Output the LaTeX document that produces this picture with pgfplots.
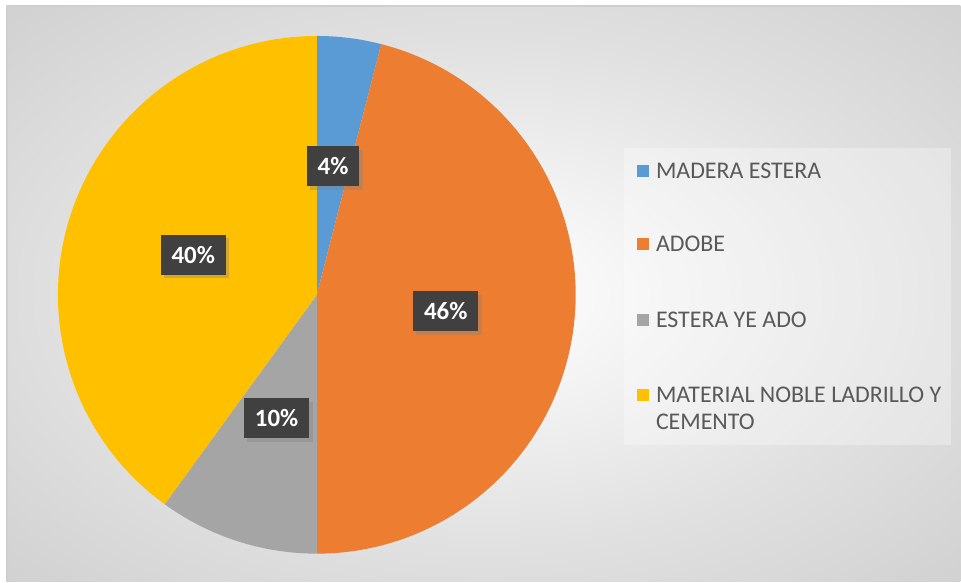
\documentclass[border=0pt]{standalone}
\usepackage{fontspec}
\setmainfont{Carlito}
\usepackage{pgfplots}
\usepackage{pgfplotstable}
\pgfplotsset{compat=1.18}
\usetikzlibrary{shadows}

\definecolor{cMadera}{HTML}{5B9BD5}
\definecolor{cAdobe}{HTML}{ED7D31}
\definecolor{cEstera}{HTML}{A5A5A5}
\definecolor{cNoble}{HTML}{FFC000}
\definecolor{lbldark}{HTML}{404040}
\definecolor{legtext}{HTML}{595959}
\definecolor{framegray}{HTML}{CFCFCF}

\pgfdeclareradialshading{chartbg}{\pgfpoint{0bp}{0bp}}{%
  color(0bp)=(white); color(6bp)=(white!97!black); color(22bp)=(white!88!black);
  color(42bp)=(white!79!black); color(71bp)=(white!73!black)}

% shares in percent, clockwise from 12 o'clock
\pgfplotstableread[col sep=comma]{
label,share,colour
MADERA ESTERA,4,cMadera
ADOBE,46,cAdobe
ESTERA YE ADO,10,cEstera
MATERIAL NOBLE LADRILLO Y CEMENTO,40,cNoble
}\piedata

% pie geometry in pixel units of the axis
\def\cx{317}
\def\cy{287}
\def\rad{129.5bp}   % 259 axis units
\def\lblr{130}

\pgfplotstablegetrowsof{\piedata}
\pgfmathtruncatemacro\lastrow{\pgfplotsretval-1}
\gdef\cum{0}
\foreach \i in {0,...,\lastrow}{%
  \pgfplotstablegetelem{\i}{share}\of\piedata
  \edef\v{\pgfplotsretval}%
  \pgfplotstablegetelem{\i}{colour}\of\piedata
  \expandafter\xdef\csname pc\i\endcsname{\pgfplotsretval}%
  \pgfmathsetmacro\a{90-3.6*\cum}%
  \pgfmathsetmacro\b{90-3.6*(\cum+\v)}%
  \pgfmathsetmacro\m{(\a+\b)/2}%
  \pgfmathsetmacro\lx{\cx+\lblr*cos(\m)}%
  \pgfmathsetmacro\ly{\cy+\lblr*sin(\m)}%
  \expandafter\xdef\csname pa\i\endcsname{\a}%
  \expandafter\xdef\csname pb\i\endcsname{\b}%
  \expandafter\xdef\csname px\i\endcsname{\lx}%
  \expandafter\xdef\csname py\i\endcsname{\ly}%
  \expandafter\xdef\csname pv\i\endcsname{\v}%
  \pgfmathsetmacro\newcum{\cum+\v}%
  \xdef\cum{\newcum}%
}

\begin{document}
\begin{tikzpicture}
\begin{axis}[
    scale only axis,
    width=480.5bp, height=291bp,
    xmin=0, xmax=961, ymin=0, ymax=582,
    hide axis,
    clip=false,
]
% page and chart area
\fill[white] (axis cs:0,0) rectangle (axis cs:961,582);
\shade[shading=chartbg] (axis cs:7,0) rectangle (axis cs:961,576);
\draw[framegray, line width=0.6bp] (axis cs:7,0) -- (axis cs:7,576) -- (axis cs:961,576);

% slices
\pgfplotsinvokeforeach{0,...,3}{
  \fill[fill=\csname pc#1\endcsname]
    (axis cs:\cx,\cy) -- ++(\csname pa#1\endcsname:\rad)
    arc[start angle=\csname pa#1\endcsname, end angle=\csname pb#1\endcsname, radius=\rad]
    -- cycle;
}

% data labels
\pgfplotsinvokeforeach{0,...,3}{
  \node[fill=lbldark, text=white, font=\bfseries\fontsize{12.5}{14}\selectfont,
        inner xsep=5.5bp, minimum height=20bp,
        drop shadow={shadow xshift=1.6bp, shadow yshift=-1.8bp, opacity=0.35}]
    at (axis cs:\csname px#1\endcsname,\csname py#1\endcsname)
    {\csname pv#1\endcsname\%};
}

% legend
\fill[white, opacity=0.3] (axis cs:624,137) rectangle (axis cs:952,434);
\def\legfont{\fontsize{12}{14}\selectfont}
\fill[cMadera] (axis cs:637,405) rectangle (axis cs:649,417);
\node[anchor=west, inner sep=0pt, text=legtext, font=\legfont] at (axis cs:656,411) {MADERA ESTERA};
\fill[cAdobe] (axis cs:637,332) rectangle (axis cs:649,344);
\node[anchor=west, inner sep=0pt, text=legtext, font=\legfont] at (axis cs:656,338) {ADOBE};
\fill[cEstera] (axis cs:637,256) rectangle (axis cs:649,268);
\node[anchor=west, inner sep=0pt, text=legtext, font=\legfont] at (axis cs:656,262) {ESTERA YE ADO};
\fill[cNoble] (axis cs:637,181) rectangle (axis cs:649,193);
\node[anchor=west, inner sep=0pt, text=legtext, font=\legfont] at (axis cs:656,187) {MATERIAL NOBLE LADRILLO Y};
\node[anchor=west, inner sep=0pt, text=legtext, font=\legfont] at (axis cs:656,160) {CEMENTO};
\end{axis}
\end{tikzpicture}
\end{document}
